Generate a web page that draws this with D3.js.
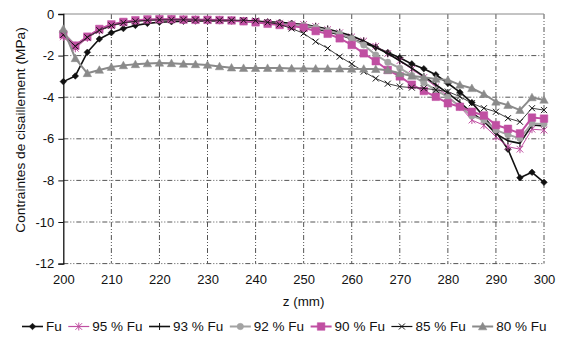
<!DOCTYPE html>
<html><head><meta charset="utf-8">
<script src="https://cdn.jsdelivr.net/npm/d3@7"></script>
<style>body{margin:0;background:#fff}svg{display:block;font-family:"Liberation Sans",Arial,sans-serif}</style>
</head><body><svg id="c" width="563" height="338"></svg>
<script>
const zValues = [200,202.5,205,207.5,210,212.5,215,217.5,220,222.5,225,227.5,230,232.5,235,237.5,240,242.5,245,247.5,250,252.5,255,257.5,260,262.5,265,267.5,270,272.5,275,277.5,280,282.5,285,287.5,290,292.5,295,297.5,300];
const fu  = [-3.25,-2.98,-1.84,-1.2,-0.9,-0.7,-0.55,-0.45,-0.4,-0.37,-0.35,-0.34,-0.33,-0.33,-0.33,-0.34,-0.35,-0.37,-0.4,-0.45,-0.55,-0.7,-0.85,-1.0,-1.2,-1.4,-1.6,-1.85,-2.1,-2.4,-2.63,-2.92,-3.33,-3.76,-4.26,-4.94,-5.66,-6.5,-7.87,-7.61,-8.09];
const p95 = [-1.1,-1.65,-1.15,-0.8,-0.55,-0.42,-0.33,-0.28,-0.26,-0.25,-0.25,-0.26,-0.27,-0.28,-0.3,-0.33,-0.36,-0.4,-0.44,-0.48,-0.5,-0.6,-0.75,-0.9,-1.1,-1.3,-1.55,-1.9,-2.25,-2.65,-3.05,-3.5,-3.95,-4.45,-5.1,-5.35,-5.9,-6.38,-6.5,-5.54,-5.58];
const p93 = [-0.95,-1.55,-1.1,-0.78,-0.55,-0.42,-0.34,-0.3,-0.28,-0.27,-0.27,-0.28,-0.29,-0.3,-0.32,-0.35,-0.38,-0.42,-0.45,-0.48,-0.5,-0.6,-0.72,-0.88,-1.05,-1.3,-1.6,-1.9,-2.25,-2.6,-3.0,-3.4,-3.8,-4.25,-4.75,-5.15,-5.75,-6.1,-6.22,-5.34,-5.38];
const p92 = [-0.9,-1.5,-1.1,-0.75,-0.52,-0.4,-0.33,-0.28,-0.27,-0.26,-0.27,-0.28,-0.29,-0.3,-0.32,-0.36,-0.4,-0.44,-0.48,-0.52,-0.55,-0.65,-0.8,-0.95,-1.17,-1.49,-1.97,-2.32,-2.6,-2.95,-3.3,-3.65,-4.0,-4.45,-4.9,-5.1,-5.58,-5.8,-5.98,-5.26,-5.29];
const p90 = [-0.98,-1.52,-1.09,-0.72,-0.5,-0.38,-0.3,-0.26,-0.25,-0.25,-0.27,-0.28,-0.28,-0.29,-0.31,-0.35,-0.4,-0.47,-0.53,-0.58,-0.66,-0.82,-0.95,-1.17,-1.49,-1.89,-2.27,-2.69,-3.0,-3.4,-3.7,-3.98,-4.29,-4.46,-4.7,-4.88,-5.34,-5.52,-5.74,-4.98,-5.03];
const p85 = [-1.0,-1.55,-1.12,-0.78,-0.55,-0.42,-0.35,-0.3,-0.28,-0.28,-0.28,-0.29,-0.3,-0.3,-0.3,-0.3,-0.32,-0.4,-0.5,-0.7,-0.93,-1.33,-1.65,-2.05,-2.4,-2.77,-3.1,-3.35,-3.49,-3.54,-3.57,-3.65,-3.73,-3.97,-4.29,-4.53,-4.7,-5.01,-5.18,-4.53,-4.62];
const p80 = [-0.72,-2.13,-2.85,-2.69,-2.55,-2.47,-2.42,-2.38,-2.35,-2.37,-2.4,-2.42,-2.45,-2.52,-2.58,-2.6,-2.6,-2.6,-2.6,-2.62,-2.62,-2.63,-2.63,-2.63,-2.64,-2.64,-2.65,-2.7,-2.85,-2.98,-3.04,-3.12,-3.17,-3.41,-3.57,-3.85,-4.22,-4.38,-4.62,-4.01,-4.13];
const seriesNames = ["Fu","95 % Fu","93 % Fu","92 % Fu","90 % Fu","85 % Fu","80 % Fu"];
const xTicks = [200,210,220,230,240,250,260,270,280,290,300];
const yTicks = [0,-2,-4,-6,-8,-10,-12];

const pink = "#c04fa2", grayC = "#a3a3a3", grayT = "#8a8a8a";
const styles = [
  {values: fu,  color:"#111", width:1.6, marker:"diamond", mfill:"#111", size:3.3},
  {values: p95, color:pink,  width:1,   marker:"asterisk", mfill:"none", size:3.3},
  {values: p93, color:"#111", width:1.6, marker:"vtick", mfill:"none", size:3.5},
  {values: p92, color:grayC, width:2,   marker:"circle", mfill:grayC, size:3.2},
  {values: p90, color:pink,  width:2,   marker:"square", mfill:pink, size:3.8},
  {values: p85, color:"#111", width:0.8, marker:"x", mfill:"none", size:3},
  {values: p80, color:grayT, width:2,   marker:"triangle", mfill:grayT, size:4.2}
];

const svg = d3.select("#c");
const L = 63.3, R = 544, T = 14, B = 263.6;
const x = d3.scaleLinear().domain([200,300]).range([L,R]);
const y = d3.scaleLinear().domain([-12,0]).range([B,T]);
const dash = "5,2,1,2,1,2";

// grid
svg.append("g").selectAll("line").data(xTicks.slice(1)).join("line")
  .attr("x1",d=>x(d)).attr("x2",d=>x(d)).attr("y1",T).attr("y2",B)
  .attr("stroke","#555").attr("stroke-dasharray",dash);
svg.append("g").selectAll("line").data(yTicks.slice(1)).join("line")
  .attr("x1",L).attr("x2",R).attr("y1",d=>y(d)).attr("y2",d=>y(d))
  .attr("stroke","#555").attr("stroke-dasharray",dash);
svg.append("line").attr("x1",L).attr("x2",R).attr("y1",T).attr("y2",T).attr("stroke","#888");

// y axis
const ya = svg.append("g").attr("transform",`translate(${L},0)`)
  .call(d3.axisLeft(y).tickValues(yTicks).tickSize(5).tickPadding(4).tickFormat(d=>d===0?"0":String(d)));
ya.select(".domain").attr("stroke","#111").attr("stroke-width",1.3);
ya.selectAll(".tick line").attr("stroke","#111");
ya.selectAll("text").attr("font-size",13).attr("fill","#111").attr("font-family","Liberation Sans, Arial, sans-serif");

// x axis labels
const xa = svg.append("g").attr("transform",`translate(0,${B})`)
  .call(d3.axisBottom(x).tickValues(xTicks).tickSize(0).tickPadding(11));
xa.select(".domain").remove();
xa.selectAll("text").attr("font-size",13).attr("fill","#111").attr("font-family","Liberation Sans, Arial, sans-serif");

svg.append("text").attr("x",(L+R)/2).attr("y",306).attr("text-anchor","middle")
  .attr("font-size",13.4).attr("fill","#111").text("z (mm)");
svg.append("text").attr("transform",`translate(25,130) rotate(-90)`).attr("text-anchor","middle")
  .attr("font-size",13.7).attr("fill","#111").text("Contraintes de cisaillement (MPa)");

function markerPath(type, s){
  switch(type){
    case "diamond": return `M0,${-s}L${s},0L0,${s}L${-s},0Z`;
    case "square": return `M${-s},${-s}H${s}V${s}H${-s}Z`;
    case "triangle": return `M0,${-s}L${s},${s*0.8}L${-s},${s*0.8}Z`;
    case "circle": return d3.symbol(d3.symbolCircle, Math.PI*s*s)();
    case "x": return `M${-s},${-s}L${s},${s}M${-s},${s}L${s},${-s}`;
    case "asterisk": return `M${-s},${-s}L${s},${s}M${-s},${s}L${s},${-s}M0,${-s*1.2}L0,${s*1.2}`;
    case "vtick": return `M0,${-s}L0,${s}`;
  }
}

const line = d3.line().x((d,i)=>x(zValues[i])).y(d=>y(d));
styles.forEach((st,k)=>{
  const g = svg.append("g");
  g.append("path").datum(st.values).attr("d",line).attr("fill","none")
    .attr("stroke",st.color).attr("stroke-width",st.width).attr("stroke-linejoin","round");
  g.selectAll("path.m").data(st.values).join("path").attr("class","m")
    .attr("transform",(d,i)=>`translate(${x(zValues[i])},${y(d)})`)
    .attr("d",markerPath(st.marker,st.size))
    .attr("fill",st.mfill).attr("stroke",st.color).attr("stroke-width",st.mfill==="none"?1:0.5);
});

// legend
const lg = svg.append("g");
let cx = 22; const ly = 326.5;
seriesNames.forEach((name,k)=>{
  const st = styles[k];
  lg.append("line").attr("x1",cx).attr("x2",cx+21).attr("y1",ly).attr("y2",ly)
    .attr("stroke",st.color).attr("stroke-width",Math.max(st.width,1.2));
  lg.append("path").attr("transform",`translate(${cx+10.5},${ly})`).attr("d",markerPath(st.marker,st.size))
    .attr("fill",st.mfill).attr("stroke",st.color).attr("stroke-width",st.mfill==="none"?1:0.5);
  const t = lg.append("text").attr("x",cx+24).attr("y",ly+4.7).attr("font-size",13.5).attr("fill","#111").text(name);
  cx += 24 + t.node().getComputedTextLength() + 6.5;
});
</script></body></html>
